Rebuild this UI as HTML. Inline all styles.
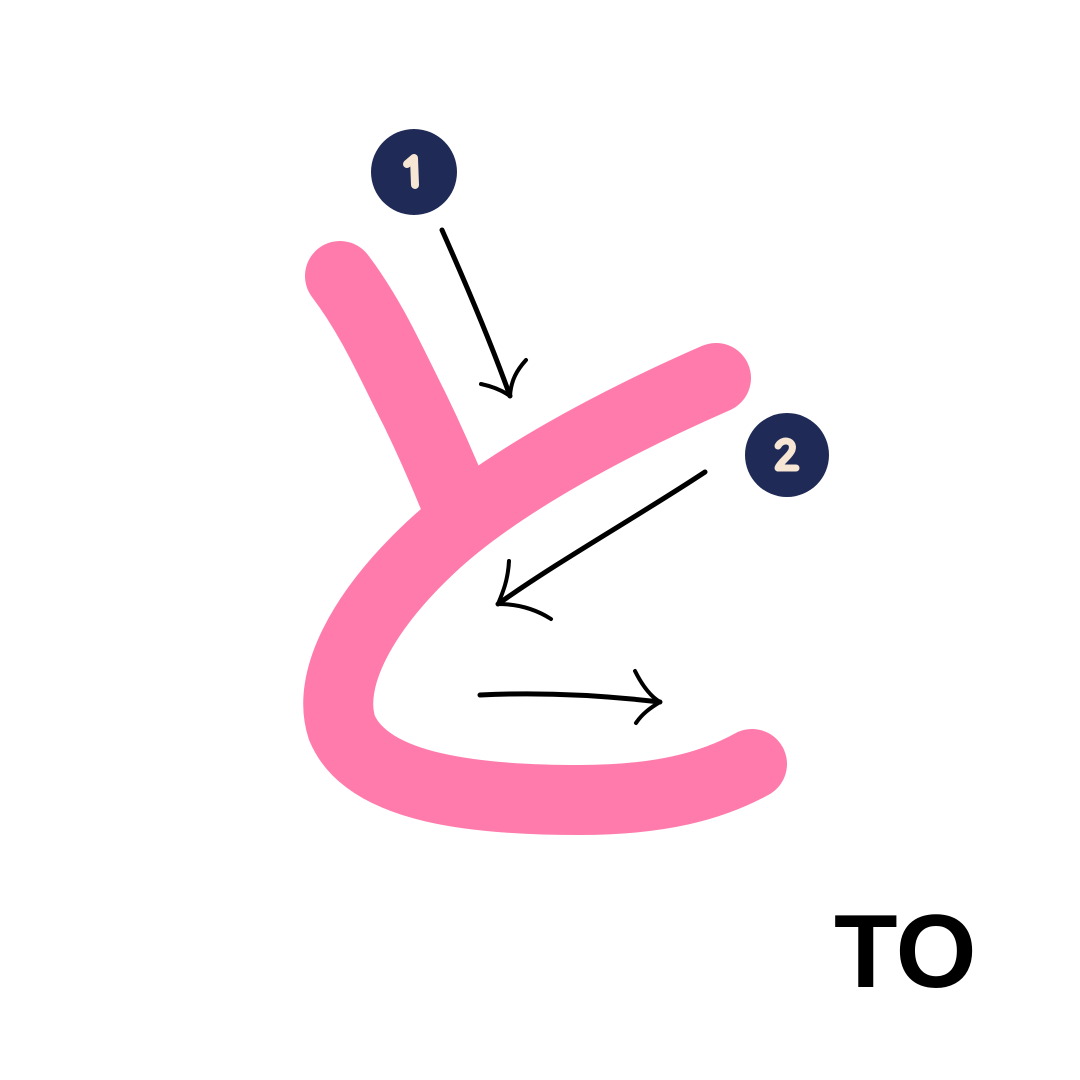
<!DOCTYPE html>
<html><head><meta charset="utf-8"><style>
html,body{margin:0;padding:0;background:#fff;width:1080px;height:1080px;overflow:hidden}
svg{display:block}
</style></head><body>
<svg width="1080" height="1080" viewBox="0 0 1080 1080">
<g fill="none" stroke="#ff7bac" stroke-linecap="round" stroke-linejoin="round" stroke-width="70">
<path d="M340,276 C372,318 392,365 415,410 C432,445 446,478 455,500"/>
<path d="M716,378 C620,420 500,482 430,548 C362,612 326,680 342,728 C368,790 480,800 580,800 C660,800 712,786 752,764"/>
</g>
<g>
<circle cx="414" cy="172" r="43" fill="#1f2a56"/>
<path d="M407,164 L414,158 L415,185" stroke="#f7e6d4" stroke-width="8" fill="none" stroke-linecap="round" stroke-linejoin="round"/>
</g>
<g>
<circle cx="787" cy="455" r="42" fill="#1f2a56"/>
<path d="M778,446 C782,438 795,440 792,450 C790,456 780,462 778,468 L796,468" stroke="#f7e6d4" stroke-width="7" fill="none" stroke-linecap="round" stroke-linejoin="round"/>
</g>
<g stroke="#000" fill="none" stroke-linecap="round" stroke-linejoin="round">
<g>
<path d="M442,230 C462,275 490,340 510,396" stroke-width="5"/>
<path d="M481,384 C495,387 503,391 510,396 C511,380 517,370 526,360" stroke-width="4"/>
</g>
<g>
<path d="M705,472 C640,515 560,560 498,604" stroke-width="5"/>
<path d="M509,561 C508,580 503,592 498,604 C520,604 537,610 551,619" stroke-width="4"/>
</g>
<g>
<path d="M480,695 C540,692 600,695 660,702" stroke-width="5"/>
<path d="M635,671 C642,685 650,696 660,702 C650,708 642,714 636,723" stroke-width="4"/>
</g>
</g>
<text x="834" y="987" font-family="Liberation Sans, sans-serif" font-weight="bold" font-size="104" fill="#000">TO</text>
</svg>
</body></html>
